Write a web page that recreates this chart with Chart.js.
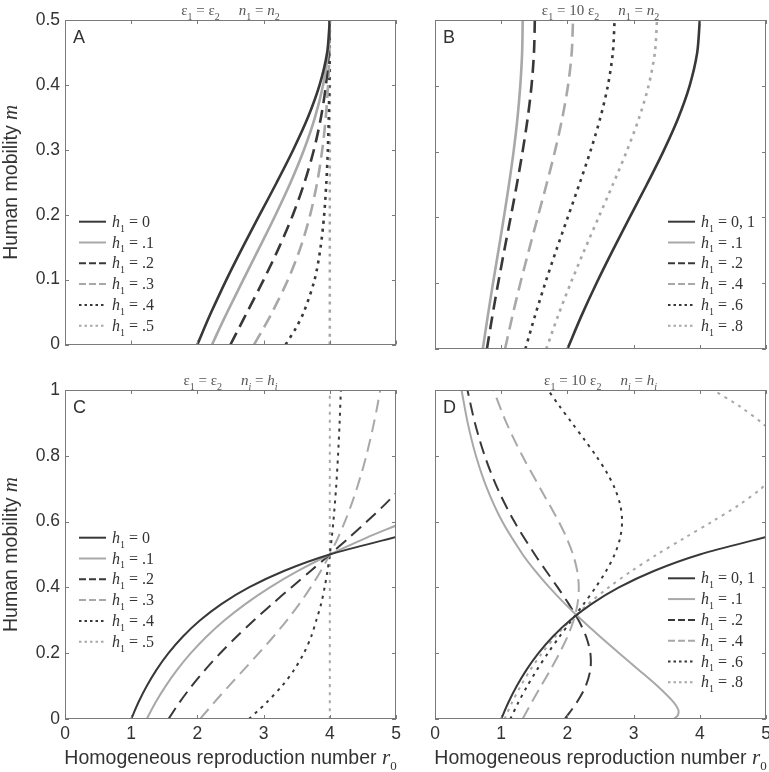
<!DOCTYPE html>
<html><head><meta charset="utf-8">
<script src="https://cdn.jsdelivr.net/npm/chart.js@4.4.1/dist/chart.umd.min.js"></script>
<style>
html,body{margin:0;padding:0;background:#fff;overflow:hidden;}
#wrap{position:relative;width:769px;height:772px;overflow:hidden;background:#fff;}
canvas{position:absolute;}
</style></head><body><div id="wrap">
<canvas id="cA" width="415" height="360" style="left:0;top:0;width:415px;height:360px"></canvas>
<canvas id="cB" width="370" height="360" style="left:415px;top:0;width:370px;height:360px"></canvas>
<canvas id="cC" width="415" height="412" style="left:0;top:360px;width:415px;height:412px"></canvas>
<canvas id="cD" width="370" height="412" style="left:415px;top:360px;width:370px;height:412px"></canvas>
</div>
<script>
// ---------- DATA ----------
const xTicks = [0, 1, 2, 3, 4, 5];
const xTickLabels = ['0', '1', '2', '3', '4', '5'];
const yTicksTop = [0, 0.1, 0.2, 0.3, 0.4, 0.5];
const yTickLabelsTop = ['0', '0.1', '0.2', '0.3', '0.4', '0.5'];
const yTicksBottom = [0, 0.2, 0.4, 0.6, 0.8, 1];
const yTickLabelsBottom = ['0', '0.2', '0.4', '0.6', '0.8', '1'];

const legendA = ['0', '.1', '.2', '.3', '.4', '.5'];
const legendB = ['0, 1', '.1', '.2', '.4', '.6', '.8'];

// Panel A  (eps1 = eps2, n1 = n2): mobility m and r0 per series
const mA = [0, 0.025, 0.05, 0.1, 0.15, 0.2, 0.25, 0.3, 0.35, 0.4, 0.45, 0.5];
const rA_h0 = [2.000, 2.103, 2.210, 2.439, 2.685, 2.941, 3.200, 3.448, 3.670, 3.846, 3.960, 4.000];
const rA_h1 = [2.222, 2.335, 2.452, 2.694, 2.940, 3.182, 3.409, 3.610, 3.776, 3.899, 3.974, 4.000];
const rA_h2 = [2.500, 2.626, 2.752, 3.002, 3.235, 3.443, 3.619, 3.760, 3.867, 3.942, 3.985, 4.000];
const rA_h3 = [2.857, 2.998, 3.132, 3.369, 3.560, 3.704, 3.810, 3.886, 3.939, 3.974, 3.994, 4.000];
const rA_h4 = [3.333, 3.486, 3.608, 3.771, 3.861, 3.915, 3.948, 3.970, 3.984, 3.993, 3.998, 4.000];
const mA_h5 = [0, 0.5];
const rA_h5 = [4, 4];

// Panel B  (eps1 = 10 eps2, n1 = n2)
const mB = [0, 0.05, 0.1, 0.15, 0.2, 0.25, 0.3, 0.35, 0.4, 0.45, 0.5];
const rB_h01 = [2.000, 2.210, 2.439, 2.685, 2.941, 3.200, 3.448, 3.670, 3.846, 3.960, 4.000];
const rB_h1 = [0.722, 0.797, 0.876, 0.959, 1.040, 1.117, 1.187, 1.245, 1.288, 1.316, 1.325];
const rB_h2 = [0.784, 0.866, 0.954, 1.047, 1.143, 1.236, 1.323, 1.399, 1.458, 1.495, 1.508];
const rB_h4 = [1.058, 1.169, 1.289, 1.418, 1.551, 1.684, 1.810, 1.921, 2.009, 2.065, 2.085];
const rB_h6 = [1.365, 1.509, 1.665, 1.831, 2.005, 2.179, 2.346, 2.494, 2.611, 2.686, 2.713];
const rB_h8 = [1.681, 1.857, 2.050, 2.256, 2.471, 2.687, 2.894, 3.079, 3.226, 3.321, 3.354];

// Panel C  (eps1 = eps2, n_i = h_i)
const mC_h0 = [0, 0.05, 0.1, 0.15, 0.2, 0.25, 0.3, 0.35, 0.4, 0.45, 0.5, 0.553];
const rC_h0 = [1.000, 1.108, 1.235, 1.384, 1.563, 1.778, 2.041, 2.367, 2.778, 3.306, 4.000, 5.000];
const mC_h1 = [0, 0.05, 0.1, 0.15, 0.2, 0.25, 0.3, 0.35, 0.4, 0.45, 0.5, 0.55, 0.588];
const rC_h1 = [1.235, 1.367, 1.520, 1.696, 1.900, 2.136, 2.410, 2.728, 3.096, 3.519, 4.000, 4.543, 5.000];
const mC_h2 = [0, 0.05, 0.1, 0.15, 0.2, 0.25, 0.3, 0.35, 0.4, 0.45, 0.5, 0.55, 0.6, 0.65, 0.686];
const rC_h2 = [1.563, 1.728, 1.913, 2.119, 2.345, 2.591, 2.855, 3.132, 3.419, 3.710, 4.000, 4.285, 4.559, 4.822, 5.000];
const mC_h3 = [0, 0.05, 0.1, 0.15, 0.2, 0.25, 0.3, 0.35, 0.4, 0.45, 0.5, 0.55, 0.6, 0.65, 0.7, 0.75, 0.8, 0.85, 0.9, 0.95, 1];
const rC_h3 = [2.041, 2.252, 2.474, 2.702, 2.928, 3.147, 3.352, 3.540, 3.711, 3.864, 4.000, 4.121, 4.228, 4.323, 4.407, 4.483, 4.551, 4.612, 4.667, 4.717, 4.762];
const mC_h4 = [0, 0.025, 0.05, 0.1, 0.15, 0.2, 0.25, 0.3, 0.35, 0.4, 0.45, 0.5, 0.55, 0.6, 0.7, 0.8, 0.9, 1];
const rC_h4 = [2.778, 2.915, 3.045, 3.276, 3.463, 3.608, 3.718, 3.796, 3.869, 3.922, 3.965, 4.000, 4.029, 4.054, 4.094, 4.124, 4.148, 4.167];
const mC_h5 = [0, 1];
const rC_h5 = [4, 4];

// Panel D  (eps1 = 10 eps2, n_i = h_i)
const mD_h01 = [0, 0.05, 0.1, 0.15, 0.2, 0.25, 0.3, 0.35, 0.4, 0.45, 0.5, 0.553];
const rD_h01 = [1.000, 1.108, 1.235, 1.384, 1.563, 1.778, 2.041, 2.367, 2.778, 3.306, 4.000, 5.000];
const mD_h1 = [0, 0.01, 0.02, 0.03, 0.05, 0.1, 0.15, 0.2, 0.25, 0.3, 0.35, 0.4, 0.45, 0.5, 0.6, 0.7, 0.8, 0.9, 1];
const rD_h1 = [3.610, 3.663, 3.680, 3.671, 3.609, 3.360, 3.074, 2.783, 2.496, 2.221, 1.964, 1.727, 1.514, 1.325, 1.016, 0.787, 0.618, 0.494, 0.401];
const mD_h2 = [0, 0.05, 0.1, 0.15, 0.2, 0.25, 0.3, 0.35, 0.4, 0.45, 0.5, 0.6, 0.7, 0.8, 0.9, 1];
const rD_h2 = [1.960, 2.141, 2.276, 2.347, 2.347, 2.283, 2.169, 2.020, 1.853, 1.679, 1.508, 1.198, 0.946, 0.751, 0.603, 0.490];
const mD_h4 = [0, 0.05, 0.1, 0.15, 0.2, 0.25, 0.3, 0.35, 0.4, 0.45, 0.5, 0.55, 0.6, 0.7, 0.8, 0.9, 1];
const rD_h4 = [1.323, 1.459, 1.601, 1.744, 1.880, 2.000, 2.094, 2.153, 2.172, 2.148, 2.085, 1.989, 1.869, 1.593, 1.319, 1.079, 0.882];
const mD_h6 = [0, 0.05, 0.1, 0.15, 0.2, 0.25, 0.3, 0.35, 0.4, 0.45, 0.5, 0.55, 0.6, 0.65, 0.7, 0.75, 0.8, 0.85, 0.9, 0.95, 1];
const rD_h6 = [1.138, 1.258, 1.393, 1.542, 1.705, 1.880, 2.063, 2.248, 2.426, 2.585, 2.713, 2.796, 2.826, 2.799, 2.718, 2.592, 2.433, 2.254, 2.068, 1.883, 1.707];
const mD_h8 = [0, 0.05, 0.1, 0.15, 0.2, 0.25, 0.3, 0.35, 0.4, 0.45, 0.5, 0.55, 0.6, 0.65, 0.7, 0.716, null, 0.889, 0.9, 0.95, 1];
const rD_h8 = [1.051, 1.163, 1.293, 1.443, 1.616, 1.817, 2.049, 2.316, 2.623, 2.970, 3.354, 3.766, 4.187, 4.588, 4.925, 5.000, null, 5.000, 4.941, 4.605, 4.203];

// ---------- STYLE ----------
const DARK = '#383838', LIGHT = '#a8a8a8';
const STY = [
  {c: DARK, d: [], ld: []},
  {c: LIGHT, d: [], ld: []},
  {c: DARK, d: [13, 7], ld: [7, 3]},
  {c: LIGHT, d: [13, 7], ld: [7, 3]},
  {c: DARK, d: [3, 5], ld: [2.5, 3]},
  {c: LIGHT, d: [3, 5], ld: [2.5, 3]}
];
const SERIF = '"Liberation Serif", "Times New Roman", serif';
const SANS = '"Liberation Sans", Arial, Helvetica, sans-serif';

function fontFor(seg, size) {
  const sz = seg.sub ? Math.round(size * 0.65) : (seg.sz || size);
  return (seg.i ? 'italic ' : '') + sz + 'px ' + (seg.sans ? SANS : SERIF);
}
function drawRich(ctx, segs, x, y, size, align) {
  const ws = []; let w = 0;
  segs.forEach(s => {
    if (s.gap) { ws.push(s.gap); w += s.gap; return; }
    ctx.font = fontFor(s, size);
    const mw = ctx.measureText(s.t).width; ws.push(mw); w += mw;
  });
  let cx = align === 'center' ? x - w / 2 : x;
  segs.forEach((s, i) => {
    if (!s.gap) { ctx.font = fontFor(s, size); ctx.fillText(s.t, cx, y + (s.sub ? size * 0.3 : 0)); }
    cx += ws[i];
  });
}

const decor = {
  id: 'decor',
  afterDraw(chart, args, o) {
    const ctx = chart.ctx, a = chart.chartArea;
    const xs = chart.scales.x, ys = chart.scales.y;
    ctx.save();
    // frame
    ctx.strokeStyle = '#7a7a7a'; ctx.lineWidth = 1; ctx.setLineDash([]);
    ctx.strokeRect(Math.round(a.left) + 0.5, Math.round(a.top) + 0.5, Math.round(a.right - a.left) - 1, Math.round(a.bottom - a.top) - 1);
    // inner ticks on all sides
    ctx.beginPath();
    xs.ticks.forEach(t => {
      const px = Math.round(xs.getPixelForValue(t.value)) + 0.5;
      ctx.moveTo(px, a.bottom); ctx.lineTo(px, a.bottom - 4);
      ctx.moveTo(px, a.top); ctx.lineTo(px, a.top + 4);
    });
    ys.ticks.forEach(t => {
      const py = Math.round(ys.getPixelForValue(t.value)) + 0.5;
      ctx.moveTo(a.left, py); ctx.lineTo(a.left + 4, py);
      ctx.moveTo(a.right, py); ctx.lineTo(a.right - 4, py);
    });
    ctx.stroke();
    ctx.textAlign = 'left'; ctx.textBaseline = 'alphabetic';
    // panel letter
    ctx.fillStyle = '#333';
    ctx.font = '18px ' + SANS;
    ctx.fillText(o.letter, a.left + 8, a.top + 23);
    // title
    ctx.fillStyle = '#555';
    drawRich(ctx, o.title, (a.left + a.right) / 2, a.top - 5, 15, 'center');
    // legend
    const lx = o.legendRight ? a.right - 98 : a.left + 14;
    o.legend.forEach((lab, i) => {
      const y = a.top + o.legendTop + i * 20.8;
      ctx.strokeStyle = STY[i].c; ctx.lineWidth = 2; ctx.setLineDash(STY[i].ld);
      ctx.beginPath(); ctx.moveTo(lx, y); ctx.lineTo(lx + 27, y); ctx.stroke();
      ctx.setLineDash([]);
      ctx.fillStyle = '#333';
      drawRich(ctx, [{t: 'h', i: true}, {t: '1', sub: true}, {t: ' = ' + lab}], lx + 33, y + 5, 16, 'left');
    });
    // axis titles
    ctx.fillStyle = '#333';
    if (o.yTitle) {
      ctx.save();
      ctx.translate(16.5, (a.top + a.bottom) / 2);
      ctx.rotate(-Math.PI / 2);
      drawRich(ctx, [{t: 'Human mobility ', sans: true}, {t: 'm', i: true, sz: 21}], 0, 0, 19.5, 'center');
      ctx.restore();
    }
    if (o.xTitle) {
      drawRich(ctx, [{t: 'Homogeneous reproduction number ', sans: true}, {t: 'r', i: true, sz: 21}, {t: '0', sub: true}],
        (a.left + a.right) / 2, a.bottom + 45, 19.5, 'center');
    }
    ctx.restore();
  }
};

function pts(ms, rs) {
  return ms.map((m, i) => (m === null ? {x: null, y: null} : {x: rs[i], y: m}));
}

function makeChart(id, cfg) {
  const datasets = cfg.series.map((s, i) => ({
    data: pts(s[0], s[1]), showLine: true, borderColor: STY[i].c, borderDash: STY[i].d,
    borderWidth: cfg.lw, pointRadius: 0, pointHoverRadius: 0, tension: 0.3, fill: false,
    borderCapStyle: 'butt', spanGaps: false
  }));
  return new Chart(document.getElementById(id), {
    type: 'scatter',
    data: {datasets},
    options: {
      responsive: false, animation: false, events: [],
      layout: {padding: {left: 0, top: cfg.top, right: 19, bottom: 0}, autoPadding: false},
      plugins: {legend: {display: false}, tooltip: {enabled: false}, decor: cfg.decor},
      scales: {
        x: {
          type: 'linear', min: 0, max: 5,
          afterBuildTicks: s => { s.ticks = xTicks.map(v => ({value: v})); },
          afterFit: s => { s.height = cfg.xH; },
          grid: {display: false, drawTicks: false}, border: {display: false},
          ticks: {display: cfg.showX, padding: 5, color: '#333', font: {family: SANS, size: 17.5},
            callback: (v, i) => xTickLabels[i]}
        },
        y: {
          type: 'linear', min: 0, max: cfg.ymax,
          afterBuildTicks: s => { s.ticks = cfg.yTicks.map(v => ({value: v})); },
          afterFit: s => { s.width = cfg.yW; },
          grid: {display: false, drawTicks: false}, border: {display: false},
          ticks: {display: cfg.showY, padding: 5, color: '#333', font: {family: SANS, size: 17.5},
            callback: (v, i) => cfg.yLabels[i]}
        }
      }
    },
    plugins: [decor]
  });
}

const titleEq = [{t: 'ε'}, {t: '1', sub: true}, {t: ' = ε'}, {t: '2', sub: true}];
const title10 = [{t: 'ε'}, {t: '1', sub: true}, {t: ' = 10 ε'}, {t: '2', sub: true}];
const titleN = [{gap: 19}, {t: 'n', i: true}, {t: '1', sub: true}, {t: ' = '}, {t: 'n', i: true}, {t: '2', sub: true}];
const titleH = [{gap: 19}, {t: 'n', i: true}, {t: 'i', sub: true, i: true}, {t: ' = '}, {t: 'h', i: true}, {t: 'i', sub: true, i: true}];

makeChart('cA', {
  series: [[mA, rA_h0], [mA, rA_h1], [mA, rA_h2], [mA, rA_h3], [mA, rA_h4], [mA_h5, rA_h5]],
  lw: 2.6, top: 20, xH: 11, yW: 65, ymax: 0.5, yTicks: yTicksTop, yLabels: yTickLabelsTop, showX: false, showY: true,
  decor: {letter: 'A', title: titleEq.concat(titleN), legend: legendA, legendRight: false, legendTop: 201.7, yTitle: true, xTitle: false}
});
makeChart('cB', {
  series: [[mB, rB_h01], [mB, rB_h1], [mB, rB_h2], [mB, rB_h4], [mB, rB_h6], [mB, rB_h8]],
  lw: 2.6, top: 20, xH: 11, yW: 20, ymax: 0.5, yTicks: yTicksTop, yLabels: yTickLabelsTop, showX: false, showY: false,
  decor: {letter: 'B', title: title10.concat(titleN), legend: legendB, legendRight: true, legendTop: 201.7, yTitle: false, xTitle: false}
});
makeChart('cC', {
  series: [[mC_h0, rC_h0], [mC_h1, rC_h1], [mC_h2, rC_h2], [mC_h3, rC_h3], [mC_h4, rC_h4], [mC_h5, rC_h5]],
  lw: 2, top: 30, xH: 53, yW: 65, ymax: 1, yTicks: yTicksBottom, yLabels: yTickLabelsBottom, showX: true, showY: true,
  decor: {letter: 'C', title: titleEq.concat(titleH), legend: legendA, legendRight: false, legendTop: 147.7, yTitle: true, xTitle: true}
});
makeChart('cD', {
  series: [[mD_h01, rD_h01], [mD_h1, rD_h1], [mD_h2, rD_h2], [mD_h4, rD_h4], [mD_h6, rD_h6], [mD_h8, rD_h8]],
  lw: 2, top: 30, xH: 53, yW: 20, ymax: 1, yTicks: yTicksBottom, yLabels: yTickLabelsBottom, showX: true, showY: false,
  decor: {letter: 'D', title: title10.concat(titleH), legend: legendB, legendRight: true, legendTop: 188.3, yTitle: false, xTitle: true}
});
</script>
</body></html>
